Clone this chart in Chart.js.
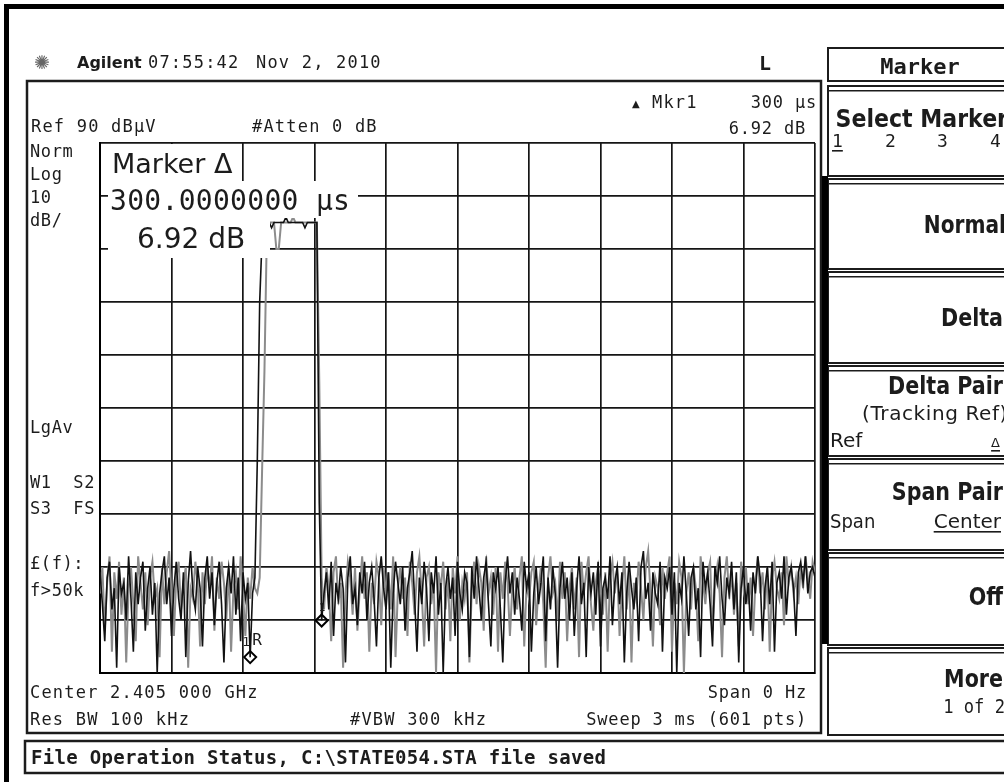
<!DOCTYPE html>
<html>
<head>
<meta charset="utf-8">
<script src="https://cdn.jsdelivr.net/npm/chart.js@4.4.0/dist/chart.umd.min.js"></script>
<style>
  html, body { margin: 0; padding: 0; background: #fff; }
  canvas { display: block; }
</style>
</head>
<body>
<canvas id="chart" width="1004" height="782"></canvas>
<script>
// Zero-span analyzer capture: 3 ms sweep, Ref 90 dBuV, 10 dB/div.
// Trace levels (dBuV), one every 10 us.
const sweepStepMs = 0.01;
const timeTicksMs = [0, 0.3, 0.6, 0.9, 1.2, 1.5, 1.8, 2.1, 2.4, 2.7, 3.0];
const levelTicks = [-10, 0, 10, 20, 30, 40, 50, 60, 70, 80, 90];

const blackTrace = [
    9, 3, -4, 8, 11, 2, 6, -9, 10, 5, 7, 0, 12, 4, -6, 9, 3, 8, 11, -2,
    6, 10, 1, 7, -10, 5, 9, 12, 3, 8, -3, 6, 11, 4, 0, 9, -7, 7, 13, 5,
    2, 10, 6, -5, 8, 12, 4, 9, -1, 7, 11, 3, -8, 6, 10, 5, 12, 1, 8, -4,
    9, 4, 7, -7, 5, 8,
    // pulse
    30, 60, 72,
    75, 75, 75, 74, 75, 75, 75, 75, 75, 76, 75, 75, 75, 75, 75, 75, 75, 74, 75, 75, 75, 75, 75,
    22, -0.1,
    5, 9, 2, 11, -3, 7, 4, 10, 6, -8, 8, 12, 3, 6, -1, 9, 5, 11, 0, 7,
    10, 4, -5, 8, 12, 6, 2, 9, -9, 5, 11, 7, 3, 10, -2, 6, 9, 13, 4, -6,
    8, 3, 11, 6, -4, 9, 5, 12, 1, 7, -10, 6, 10, 4, 8, -3, 11, 5, 2, 9,
    7, -7, 10, 4, 12, 6, 0, 8, 11, 3, -5, 9, 6, 10, 2, -8, 7, 12, 5, 9,
    1, 8, 4, -2, 11, 6, 9, -6, 5, 10, 3, 7, 12, -4, 8, 2, 10, 5, -9, 6,
    11, 4, 8, 0, 9, -3, 6, 12, 3, 7, -7, 10, 5, 9, 1, 11, -5, 6, 8, 4,
    12, -1, 7, 10, 3, 9, -8, 5, 11, 6, 2, 8, -4, 10, 13, 4, 7, -2, 9, 5,
    3, 11, -6, 8, 6, 10, 1, 9, -10, 7, 4, 12, 5, -3, 8, 10, 2, 6, -7, 11,
    6, 9, 3, -5, 10, 7, 12, 4, -1, 8, 5, 11, 2, 9, -8, 6, 10, 3, 7, -2,
    9, 5, 12, 8, -4, 6, 10, 3, 11, -6, 7, 9, 4, 12, 1, 8, 10, 6, -3, 9,
    11, 7, 12, 5, 9, 10, 8
];

const grayTrace = [
    5, 10, -2, 7, 12, -6, 9, 4, 11, 1, 8, -8, 6, 10, 3, -4, 12, 7, 2, 9,
    -1, 8, 11, 4, 6, -7, 10, 3, 9, 13, 5, -3, 8, 11, 2, 7, 10, -9, 6, 4,
    11, 7, -5, 9, 3, 10, 6, 12, -2, 8, 4, 11, 7, 0, 10, -6, 6, 9, 2, 12,
    5, -3, 8, 4, 10, 6,
    // pulse
    5, 8, 28, 47, 73,
    75, 75, 75, 70, 70, 75, 75, 75, 75, 75, 76, 75, 75, 75, 75, 75, 75, 75, 75, 75, 75,
    45, 8,
    2, 10, 6, -4, 9, 12, 3, 7, -9, 5, 11, 8, 1, 10, -2, 6, 12, 4, 9, -6,
    7, 3, 11, 8, -1, 10, 5, 9, 2, 12, -7, 6, 10, 4, 8, -3, 11, 7, 1, 9,
    12, 5, -5, 8, 10, 3, 7, -10, 9, 6, 11, 2, 8, -4, 10, 5, 12, 0, 7, 4,
    9, -8, 6, 11, 3, 10, 7, -2, 12, 5, 8, 1, 10, -6, 9, 4, 11, 7, -3, 6,
    10, 2, 8, 12, -5, 7, 4, 9, 11, -1, 6, 10, 3, -9, 8, 12, 5, 7, 0, 11,
    4, 9, -4, 6, 10, 2, 8, -7, 11, 5, 9, 12, 3, -2, 7, 10, 6, 1, 9, -6,
    8, 11, 5, 10, -3, 6, 12, 2, 9, -8, 7, 4, 11, 6, 0, 10, 13, 5, -5, 8,
    6, -1, 10, 4, 9, 12, -6, 7, 3, 11, 8, -10, 5, 9, 2, 10, 6, -4, 12, 7,
    3, 9, 11, -2, 6, 10, 5, -7, 8, 12, 4, 9, 1, 7, -5, 11, 6, 10, 3, 8,
    -3, 7, 12, 5, 9, 2, 10, -6, 8, 11, 6, 4, 9, -1, 12, 7, 10, 5, 8, 3,
    10, 6, 12, 8, 4, 11, 9
];

// reference marker (1R) and delta marker (1), 300 us apart
const markerTimesMs = [0.63, 0.93];
const markerLevels = [-7, -0.1];

const INK = "#1c1c1c";
const MONO = '17px "DejaVu Sans Mono"';

function put(c, s, x, y, font, o = {}) {
    c.save();
    c.font = font;
    c.fillStyle = o.color || INK;
    c.textAlign = o.align || "left";
    c.textBaseline = "alphabetic";
    c.letterSpacing = (o.spacing === undefined ? 1.2 : o.spacing) + "px";
    c.translate(x, y);
    if (o.sx) c.scale(o.sx, 1);
    c.fillText(s, 0, 0);
    if (o.underline) {
        const w = c.measureText(s).width;
        c.fillRect(o.align === "right" ? -w : 0, 3, w, 1.6);
    }
    c.restore();
}

function box(c, x, y, w, h, lw) {
    c.save();
    c.strokeStyle = INK;
    c.lineWidth = lw || 2;
    c.strokeRect(x, y, w, h);
    c.restore();
}

const toPoints = vals => vals.map((v, i) => ({ x: i * sweepStepMs, y: v }));

const screen = {
    id: "screen",
    beforeDraw(chart) {
        const c = chart.ctx;
        c.save();
        c.fillStyle = "#fff";
        c.fillRect(0, 0, chart.width, chart.height);
        c.restore();
    },
    afterDatasetsDraw(chart) {
        // marker readout sits on white panels over the graticule
        const c = chart.ctx;
        c.save();
        c.fillStyle = "#fff";
        c.fillRect(101, 144, 140, 37);
        c.fillRect(108, 181, 250, 37);
        c.fillRect(108, 218, 162, 40);
        c.restore();
        put(c, "Marker \u0394", 112, 173, '27px "DejaVu Sans"', { spacing: 0 });
        put(c, "300.0000000 \u00b5s", 110, 210, '28px "DejaVu Sans Mono"', { spacing: 0.3 });
        put(c, "6.92 dB", 137, 248, '28px "DejaVu Sans"', { spacing: 0 });
    },
    afterDraw(chart) {
        const c = chart.ctx;
        // outer bezel
        c.save();
        c.fillStyle = "#000";
        c.fillRect(4, 4, 1000, 5);
        c.fillRect(4, 4, 5, 778);
        c.restore();

        // header
        put(c, "\u273a", 34, 69, '19px "DejaVu Sans"', { color: "#666", spacing: 0 });
        put(c, "Agilent", 77, 68, 'bold 16px "DejaVu Sans"', { spacing: 0 });
        put(c, "07:55:42", 148, 68, MONO);
        put(c, "Nov 2, 2010", 256, 68, MONO);
        put(c, "L", 759, 70, 'bold 20px "DejaVu Sans Mono"', { spacing: 0 });

        // measurement window
        box(c, 27, 81, 794, 652, 2.5);
        put(c, "Ref 90 dB\u00b5V", 31, 132, MONO);
        put(c, "#Atten 0 dB", 252, 132, MONO);
        put(c, "\u25b2", 632, 107, '10px "DejaVu Sans"', { spacing: 0 });
        put(c, "Mkr1", 652, 108, MONO);
        put(c, "300 \u00b5s", 817, 108, MONO, { align: "right", spacing: 0.8 });
        put(c, "6.92 dB", 806, 134, MONO, { align: "right", spacing: 0.8 });

        const side = [["Norm", 157], ["Log", 180], ["10", 203], ["dB/", 226],
            ["LgAv", 433], ["W1  S2", 488], ["S3  FS", 514], ["\u00a3(f):", 569], ["f>50k", 596]];
        side.forEach(([s, y]) => put(c, s, 30, y, MONO, { spacing: 0.6 }));

        put(c, "Center 2.405 000 GHz", 30, 698, MONO);
        put(c, "Span 0 Hz", 807, 698, MONO, { align: "right", spacing: 0.8 });
        put(c, "Res BW 100 kHz", 30, 725, MONO);
        put(c, "#VBW 300 kHz", 350, 725, MONO);
        put(c, "Sweep 3 ms (601 pts)", 807, 725, MONO, { align: "right", spacing: 0.8 });

        // marker glyph labels
        const xs = chart.scales.x, ys = chart.scales.y;
        const rx = xs.getPixelForValue(markerTimesMs[0]), ry = ys.getPixelForValue(markerLevels[0]);
        put(c, "1", rx - 8, ry - 11, '13px "DejaVu Sans Mono"', { spacing: 0 });
        put(c, "R", rx + 2, ry - 12, '16px "DejaVu Sans Mono"', { spacing: 0 });
        const dx = xs.getPixelForValue(markerTimesMs[1]), dy = ys.getPixelForValue(markerLevels[1]);
        put(c, "1", dx - 3, dy - 10, '11px "DejaVu Sans Mono"', { spacing: 0 });

        // status line
        box(c, 25, 741, 990, 32, 2.5);
        put(c, "File Operation Status, C:\\STATE054.STA file saved", 31, 764,
            'bold 19px "DejaVu Sans Mono"', { spacing: 0.3 });

        // softkey menu
        const kx = 828, kw = 190;
        box(c, kx, 48, kw, 33, 2);
        put(c, "Marker", 920, 74, 'bold 22px "DejaVu Sans Mono"', { align: "center", spacing: 0 });
        const keys = [[86, 176], [179, 269], [272, 363], [366, 456], [459, 550], [553, 645], [648, 735]];
        keys.forEach(([y0, y1]) => {
            box(c, kx, y0, kw, y1 - y0, 2);
            c.save();
            c.fillStyle = INK;
            c.fillRect(kx, y0 + 4, kw, 1.5);
            c.restore();
        });
        c.save();
        c.fillStyle = "#000";
        c.fillRect(822, 176, 6, 468);
        c.restore();

        const KEY = 'bold 24px "DejaVu Sans"';
        const SUB = '20px "DejaVu Sans"';
        put(c, "Select Marker", 1008, 127, KEY, { align: "right", sx: 0.92, spacing: 0 });
        put(c, "1", 832, 147, '18px "DejaVu Sans Mono"', { spacing: 0, underline: true });
        put(c, "2", 885, 147, '18px "DejaVu Sans Mono"', { spacing: 0 });
        put(c, "3", 937, 147, '18px "DejaVu Sans Mono"', { spacing: 0 });
        put(c, "4", 990, 147, '18px "DejaVu Sans Mono"', { spacing: 0 });
        put(c, "Normal", 1006, 233, KEY, { align: "right", sx: 0.84, spacing: 0 });
        put(c, "Delta", 1003, 326, KEY, { align: "right", sx: 0.86, spacing: 0 });
        put(c, "Delta Pair", 1003, 394, KEY, { align: "right", sx: 0.86, spacing: 0 });
        put(c, "(Tracking Ref)", 1008, 420, SUB, { align: "right", spacing: 0.6 });
        put(c, "Ref", 830, 447, SUB, { spacing: 0 });
        put(c, "\u0394", 1000, 447, '13px "DejaVu Sans"', { align: "right", spacing: 0, underline: true });
        put(c, "Span Pair", 1003, 500, KEY, { align: "right", sx: 0.86, spacing: 0 });
        put(c, "Span", 830, 528, SUB, { sx: 0.9, spacing: 0 });
        put(c, "Center", 1001, 528, SUB, { align: "right", spacing: 0, underline: true });
        put(c, "Off", 1003, 605, KEY, { align: "right", sx: 0.86, spacing: 0 });
        put(c, "More", 1003, 687, KEY, { align: "right", sx: 0.86, spacing: 0 });
        put(c, "1 of 2", 1005, 713, '19px "DejaVu Sans Mono"', { align: "right", sx: 0.9, spacing: 0 });
    }
};

new Chart(document.getElementById("chart"), {
    type: "scatter",
    data: {
        datasets: [
            {
                label: "markers",
                data: markerTimesMs.map((t, i) => ({ x: t, y: markerLevels[i] })),
                showLine: false,
                pointStyle: "rectRot",
                pointRadius: 6,
                pointBorderWidth: 2,
                pointBorderColor: "#000",
                pointBackgroundColor: "rgba(255,255,255,0)",
            },
            {
                label: "Trace 1",
                data: toPoints(blackTrace),
                showLine: true,
                borderColor: "#111",
                borderWidth: 1.6,
                pointRadius: 0,
                tension: 0,
            },
            {
                label: "Trace 2",
                data: toPoints(grayTrace),
                showLine: true,
                borderColor: "#8c8c8c",
                borderWidth: 2,
                pointRadius: 0,
                tension: 0,
            },
        ],
    },
    options: {
        responsive: false,
        animation: false,
        devicePixelRatio: 1,
        layout: { padding: { left: 100, right: 189, top: 143, bottom: 109 } },
        plugins: { legend: { display: false }, tooltip: { enabled: false } },
        scales: {
            x: {
                type: "linear", min: 0, max: 3,
                afterBuildTicks: s => { s.ticks = timeTicksMs.map(v => ({ value: v })); },
                ticks: { display: false },
                grid: { color: "#151515", lineWidth: 1.7, drawTicks: false, tickLength: 0 },
                border: { color: "#000", width: 2 },
            },
            y: {
                type: "linear", min: -10, max: 90,
                afterBuildTicks: s => { s.ticks = levelTicks.map(v => ({ value: v })); },
                ticks: { display: false },
                grid: { color: "#151515", lineWidth: 1.7, drawTicks: false, tickLength: 0 },
                border: { color: "#000", width: 2 },
            },
        },
    },
    plugins: [screen],
});
</script>
</body>
</html>
